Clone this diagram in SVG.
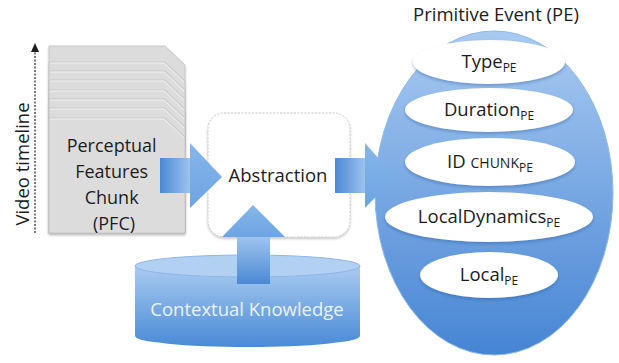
<svg xmlns="http://www.w3.org/2000/svg" width="619" height="363" viewBox="0 0 619 363">
  <defs>
    <style>
      .lbl { font-family: "Open Sans", "Noto Sans", "Liberation Sans", sans-serif; font-size: 18.5px; fill: #1c1c1c; }
      .sub { font-size: 12px; }
      .page { fill: #dcdcdc; stroke: #c2c2c2; stroke-width: 0.8; }
      .pagehi { fill: none; stroke: #efefef; stroke-width: 1; }
      .attr { fill: #ffffff; filter: url(#soft); }
    </style>
    <linearGradient id="bodyH" x1="0" y1="0" x2="1" y2="0">
      <stop offset="0" stop-color="#4b89d5"/>
      <stop offset="1" stop-color="#9fc5ef"/>
    </linearGradient>
    <linearGradient id="bodyV" x1="0" y1="0" x2="0" y2="1">
      <stop offset="0" stop-color="#9fc5ef"/>
      <stop offset="1" stop-color="#4b89d5"/>
    </linearGradient>
    <linearGradient id="head" x1="0" y1="0" x2="0" y2="1">
      <stop offset="0" stop-color="#86b6ea"/>
      <stop offset="1" stop-color="#6da4e2"/>
    </linearGradient>
    <linearGradient id="drum" x1="0" y1="0" x2="0" y2="1">
      <stop offset="0" stop-color="#a9cbf1"/>
      <stop offset="1" stop-color="#4a8ad6"/>
    </linearGradient>
    <linearGradient id="pe" x1="0" y1="0" x2="0" y2="1">
      <stop offset="0" stop-color="#a9caf1"/>
      <stop offset="1" stop-color="#4685d4"/>
    </linearGradient>
    <filter id="soft" x="-10%" y="-20%" width="120%" height="150%">
      <feDropShadow dx="0" dy="2" stdDeviation="1.5" flood-color="#1f4f8f" flood-opacity="0.35"/>
    </filter>
    <filter id="shade" x="-10%" y="-10%" width="120%" height="120%">
      <feDropShadow dx="0" dy="1.5" stdDeviation="1.2" flood-color="#000" flood-opacity="0.25"/>
    </filter>
  </defs>

  <!-- timeline axis -->
  <g id="timeline">
    <line x1="35" y1="233" x2="35" y2="51" stroke="#333" stroke-width="1.3" stroke-dasharray="2 1.5"/>
    <path d="M31,52 L35,43 L39,52 Z" fill="#1c1c1c"/>
    <text class="lbl" transform="translate(29,164) rotate(-90)" text-anchor="middle">Video timeline</text>
  </g>

  <!-- stack of perceptual feature chunks -->
  <g id="pfc">
    <g filter="url(#shade)">
      <path class="page" d="M49,46 H165 L185,65 V233 H49 Z"/>
      <path class="page" d="M49,62 H165 L185,81 V233 H49 Z"/>
      <path class="page" d="M49,71 H165 L185,90 V233 H49 Z"/>
      <path class="page" d="M49,80 H165 L185,99 V233 H49 Z"/>
      <path class="page" d="M49,90 H165 L185,109 V233 H49 Z"/>
      <path class="page" d="M49,99 H165 L185,118 V233 H49 Z"/>
      <path class="page" d="M49,108 H165 L185,127 V233 H49 Z"/>
      <path class="page" d="M49,118 H165 L185,137 V233 H49 Z"/>
    </g>
    <path class="pagehi" d="M50,63 H164 L184,82 M50,72 H164 L184,91 M50,81 H164 L184,100 M50,91 H164 L184,110 M50,100 H164 L184,119 M50,109 H164 L184,128 M50,119 H164 L184,138"/>
    <text class="lbl" text-anchor="middle" style="font-size:18px">
      <tspan x="114" y="152">Perceptual</tspan>
      <tspan x="114" y="178">Features</tspan>
      <tspan x="114" y="204">Chunk</tspan>
      <tspan x="114" y="230">(PFC)</tspan>
    </text>
  </g>

  <!-- abstraction step -->
  <g id="abstraction">
    <rect x="208" y="113" width="142" height="124" rx="16" fill="#ffffff" stroke="#c9c9c9" stroke-width="1" stroke-dasharray="2 1.5" filter="url(#shade)"/>
    <text class="lbl" x="278" y="182" text-anchor="middle">Abstraction</text>
  </g>

  <!-- contextual knowledge store -->
  <g id="knowledge">
    <path d="M135,266 V336 A112.5,11 0 0 0 360,336 V266 Z" fill="url(#drum)"/>
    <ellipse cx="247.5" cy="266" rx="112.5" ry="11" fill="#b2d0f2" stroke="#8db7e7" stroke-width="1"/>
    <text class="lbl" x="247" y="316" text-anchor="middle" style="fill:#eaf3fd">Contextual Knowledge</text>
  </g>

  <!-- primitive event -->
  <g id="primitive-event">
    <text class="lbl" x="496" y="21" text-anchor="middle">Primitive Event (PE)</text>
    <ellipse cx="494" cy="193" rx="119" ry="162" fill="url(#pe)" stroke="#8fb9e8" stroke-width="1"/>
    <g id="type-pe">
      <ellipse class="attr" cx="489" cy="62" rx="76" ry="22"/>
      <text class="lbl" x="489" y="68" text-anchor="middle">Type<tspan class="sub" dy="4">PE</tspan></text>
    </g>
    <g id="duration-pe">
      <ellipse class="attr" cx="489" cy="110" rx="84" ry="22"/>
      <text class="lbl" x="489" y="116" text-anchor="middle">Duration<tspan class="sub" dy="4">PE</tspan></text>
    </g>
    <g id="idchunk-pe">
      <ellipse class="attr" cx="490" cy="162" rx="85" ry="24"/>
      <text class="lbl" x="490" y="168" text-anchor="middle">ID <tspan style="font-size:14px">CHUNK</tspan><tspan class="sub" dy="4">PE</tspan></text>
    </g>
    <g id="localdynamics-pe">
      <ellipse class="attr" cx="489" cy="217" rx="104" ry="25"/>
      <text class="lbl" x="489" y="223" text-anchor="middle">LocalDynamics<tspan class="sub" dy="4">PE</tspan></text>
    </g>
    <g id="local-pe">
      <ellipse class="attr" cx="489" cy="275" rx="69" ry="23"/>
      <text class="lbl" x="489" y="281" text-anchor="middle">Local<tspan class="sub" dy="4">PE</tspan></text>
    </g>
  </g>

  <!-- block arrows between the stages -->
  <g id="connectors">
    <g id="pfc-to-abstraction">
      <rect x="160" y="158" width="31" height="35" fill="url(#bodyH)"/>
      <path d="M190,143 L222,177 L190,208 Z" fill="url(#head)"/>
    </g>
    <g id="abstraction-to-pe">
      <rect x="335" y="158" width="31" height="35" fill="url(#bodyH)"/>
      <path d="M365,143 L395,177 L365,208 Z" fill="url(#head)"/>
    </g>
    <g id="knowledge-to-abstraction">
      <rect x="237" y="236" width="33" height="48" fill="url(#bodyV)"/>
      <path d="M222,237 L253,205 L285,237 Z" fill="url(#head)"/>
    </g>
  </g>
</svg>
